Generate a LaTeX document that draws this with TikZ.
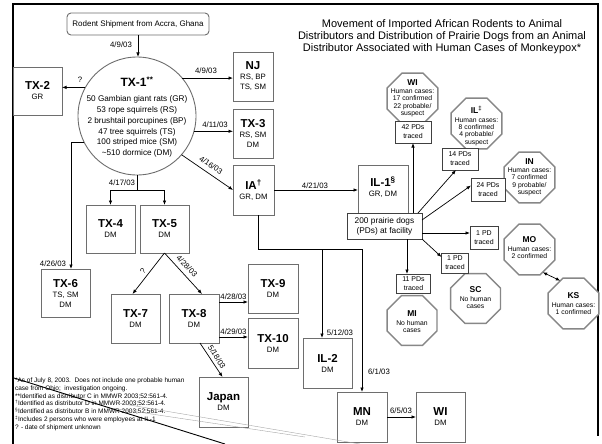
\documentclass[tikz,border=0pt]{standalone}
\usepackage{fontspec}
\setmainfont{Liberation Sans}
\usetikzlibrary{arrows.meta,shapes.geometric,calc}
\definecolor{boxgray}{RGB}{110,110,110}
\definecolor{octgray}{RGB}{135,135,135}
\newcommand\bxname[1]{{\fontsize{11.5}{12}\selectfont\bfseries #1}}
\newcommand\octname[1]{{\fontsize{8.5}{9}\selectfont\bfseries #1}}
\begin{document}
\begin{tikzpicture}[x=1pt,y=-1pt,
  every node/.style={inner sep=0pt, outer sep=0pt},
  bx/.style={draw=boxgray, line width=0.9pt, fill=white, align=center, font=\fontsize{7.8}{10}\selectfont},
  sbx/.style={draw=black!75, line width=0.6pt, fill=white, align=center, font=\fontsize{7}{9}\selectfont},
  octa/.style={regular polygon, regular polygon sides=8, draw=octgray, line width=1.4pt, fill=white, minimum size=55pt},
  octt/.style={align=center, font=\fontsize{6.8}{7.2}\selectfont},
  con/.style={draw=black, line width=0.7pt},
  arr/.style={con, -{Latex[length=4.5pt,width=3.5pt]}},
  dl/.style={font=\fontsize{7.8}{9}\selectfont},
]
\useasboundingbox (0,0) rectangle (602,444);

% frame
\draw[line width=2.2pt] (13,444) -- (13,4) -- (598,4) -- (598,436);

% title
\node[align=center, font=\fontsize{11}{12}\selectfont] (title) at (442,37) {Movement of Imported African Rodents to Animal\\Distributors and Distribution of Prairie Dogs from an Animal\\Distributor Associated with Human Cases of Monkeypox*};

% shipment and TX-1
\node[bx, rounded corners=4pt, minimum width=142pt, minimum height=22pt, font=\fontsize{8}{9}\selectfont] (ship) at (138,24) {Rodent Shipment from Accra, Ghana};
\node[circle, draw=boxgray, line width=0.9pt, minimum size=118pt] (tx1) at (137,116) {};
\node[font=\fontsize{12}{13}\selectfont\bfseries] (tx1n) at (137,82) {TX-1\textsuperscript{**}};
\node[align=center, font=\fontsize{8.2}{10.9}\selectfont] (tx1l) at (137,126.5) {50 Gambian giant rats (GR)\\53 rope squirrels (RS)\\2 brushtail porcupines (BP)\\47 tree squirrels (TS)\\100 striped mice (SM)\\\textasciitilde510 dormice (DM)};

% boxes
\node[bx, minimum width=49pt, minimum height=48pt] (tx2) at (37.5,91) {\bxname{TX-2}\\GR};
\node[bx, minimum width=40pt, minimum height=49pt] (nj) at (253,76.5) {\bxname{NJ}\\RS, BP\\TS, SM};
\node[bx, minimum width=40pt, minimum height=49pt] (tx3) at (253,133.5) {\bxname{TX-3}\\RS, SM\\DM};
\node[bx, minimum width=41pt, minimum height=50pt] (ia) at (253.5,190) {\bxname{IA\textsuperscript{†}}\\GR, DM};
\node[bx, minimum width=50pt, minimum height=57pt] (il1) at (383,193.5) {};
\node[align=center, font=\fontsize{7.8}{10}\selectfont] (il1t) at (383,187) {\bxname{IL-1\textsuperscript{§}}\\GR, DM};
\node[bx, minimum width=49pt, minimum height=48pt] (tx4) at (110.5,229) {\bxname{TX-4}\\DM};
\node[bx, minimum width=49pt, minimum height=48pt] (tx5) at (164.5,229) {\bxname{TX-5}\\DM};
\node[bx, minimum width=49pt, minimum height=48pt] (tx6) at (65.5,293) {\bxname{TX-6}\\TS, SM\\DM};
\node[bx, minimum width=49pt, minimum height=49pt] (tx7) at (135.5,318.5) {\bxname{TX-7}\\DM};
\node[bx, minimum width=50pt, minimum height=49pt] (tx8) at (194,318.5) {\bxname{TX-8}\\DM};
\node[bx, minimum width=50pt, minimum height=49pt] (tx9) at (273,288.5) {\bxname{TX-9}\\DM};
\node[bx, minimum width=50pt, minimum height=50pt] (tx10) at (273,343) {\bxname{TX-10}\\DM};
\node[bx, minimum width=49pt, minimum height=50pt] (japan) at (223.5,402) {\bxname{Japan}\\DM};
\node[bx, minimum width=49pt, minimum height=50pt] (il2) at (327.5,363) {\bxname{IL-2}\\DM};
\node[bx, minimum width=50pt, minimum height=50pt] (mn) at (362,417) {\bxname{MN}\\DM};
\node[bx, minimum width=49pt, minimum height=50pt] (wib) at (440.5,417) {\bxname{WI}\\DM};
\node[bx, draw=black!75, minimum width=75pt, minimum height=26pt, font=\fontsize{8.3}{10}\selectfont] (pd) at (384.5,226) {200 prairie dogs\\(PDs) at facility};

% octagons
\node[octa] (wio) at (412.5,98.5) {};
\node[octt] (wiot) at (412.5,98) {\octname{WI}\\[1.5pt]Human cases:\\17 confirmed\\22 probable/\\suspect};
\node[octa] (ilo) at (476.5,123.5) {};
\node[octt] (ilot) at (476.5,126) {\octname{IL\textsuperscript{‡}}\\[1.5pt]Human cases:\\8 confirmed\\4 probable/\\suspect};
\node[octa] (ino) at (529.5,177.5) {};
\node[octt] (inot) at (529.5,177) {\octname{IN}\\[1.5pt]Human cases:\\7 confirmed\\9 probable/\\suspect};
\node[octa] (mo) at (529.5,249.5) {};
\node[octt] (mot) at (529.5,248) {\octname{MO}\\[1.5pt]Human cases:\\2 confirmed};
\node[octa] (ks) at (573.5,303.5) {};
\node[octt] (kst) at (573.5,304) {\octname{KS}\\[1.5pt]Human cases:\\1 confirmed};
\node[octa, minimum size=54pt] (sc) at (475.5,298.5) {};
\node[octt] (sct) at (475.5,297.5) {\octname{SC}\\[1.5pt]No human\\cases};
\node[octa, minimum size=54pt] (mi) at (412,320.5) {};
\node[octt] (mit) at (412,322) {\octname{MI}\\[1.5pt]No human\\cases};

% small PD boxes
\node[sbx, minimum width=36pt, minimum height=22pt] (pd42) at (413,132) {42 PDs\\traced};
\node[sbx, minimum width=36pt, minimum height=22pt] (pd14) at (460,159) {14 PDs\\traced};
\node[sbx, minimum width=34pt, minimum height=23pt] (pd24) at (488,189.5) {24 PDs\\traced};
\node[sbx, minimum width=28pt, minimum height=23pt] (pd1mo) at (484,238) {1 PD\\traced};
\node[sbx, minimum width=27pt, minimum height=20pt] (pd1sc) at (455,263) {1 PD\\traced};
\node[sbx, minimum width=34pt, minimum height=19pt] (pd11) at (413.5,283.5) {11 PDs\\traced};

% connectors from shipment / TX-1
\draw[arr] (ship.south) -- (ship.south |- tx1.north);
\node[dl] (l1) at (121,45) {4/9/03};
\draw[arr] (tx1.151) -- (tx1.151 -| tx2.east);
\node[dl] (lq1) at (80,80) {?};
\draw[arr] (tx1.40) -- (tx1.40 -| nj.west);
\node[dl] (l2) at (206,71) {4/9/03};
\draw[arr] (tx1.-15) -- (tx1.-15 -| tx3.west);
\node[dl] (l3) at (215,125) {4/11/03};
\draw[arr] (tx1.-41) -- (ia.west);
\node[dl, rotate=-34] (l4) at (211,165) {4/16/03};
\draw[arr] (ia.east) -- (ia.east -| il1.west);
\node[dl] (l5) at (315,186) {4/21/03};

\coordinate (c6) at ($(tx6.north)+(5.5,0)$);
\draw[arr] (tx1.206) -| (c6);
\node[dl] (l6) at (53,264) {4/26/03};

\coordinate (c45) at ($(tx1.south)+(0,15)$);
\draw[con] (tx1.south) -- (c45);
\draw[arr] (c45) -| (tx4.north);
\draw[arr] (c45) -| (tx5.north);
\node[dl] (l7) at (122,183) {4/17/03};

\draw[arr] (tx5.south) -- ($(tx7.north)+(-3,0)$);
\draw[arr] (tx5.south) -- ($(tx8.north)+(8,0)$);
\node[dl, rotate=50] (lq2) at (143,271) {?};
\node[dl, rotate=-46] (l8) at (187,266) {4/28/03};

\coordinate (c89) at ($(tx8.north east)+(0,8)$);
\draw[arr] (c89) -- (c89 -| tx9.west);
\node[dl] (l9) at (233.5,297) {4/28/03};
\coordinate (c810) at ($(tx8.south east)+(0,-6)$);
\draw[arr] (c810) -- (c810 -| tx10.west);
\node[dl] (l10) at (233.5,332) {4/29/03};
\draw[arr] ($(tx8.south)+(6,0)$) -- ($(japan.north)+(-1,0)$);
\node[dl, rotate=-58] (l11) at (217,357) {5/18/03};

% IA to IL-2 and MN
\coordinate (j1) at ($(ia.south)+(4.5,34)$);
\coordinate (j2) at (322,249);
\coordinate (j3) at (mn.north |- j1);
\draw[con] ($(ia.south)+(4.5,0)$) -- (j1) -- (j3);
\draw[arr] (j3) -- (mn.north);
\draw[arr] (j2) -- (j2 |- il2.north);
\node[dl] (l12) at (340,333) {5/12/03};
\node[dl] (l13) at (379,372) {6/1/03};
\draw[arr] (mn.east) -- (mn.east -| wib.west);
\node[dl] (l14) at (401,410.5) {6/5/03};

% prairie dog distribution
\draw[arr] (pd42.south |- pd.north) -- (pd42.south);
\draw[arr] ($(pd.north east)+(-4,0)$) -- ($(pd14.south)+(-4,0)$);
\draw[arr] ($(pd.east)+(0,-6)$) -- ($(pd24.west)+(0,-4)$);
\coordinate (cmo) at ($(pd.east)+(0,7)$);
\draw[arr] (cmo) -- (cmo -| pd1mo.west);
\draw[arr] (pd.south east) -- ($(pd1sc.north west)+(0,4)$);
\coordinate (c11) at ($(pd.south east)+(-15,0)$);
\draw[arr] (c11) -- (c11 |- pd11.north);
\draw[con, {Latex[length=4.5pt,width=3.5pt]}-{Latex[length=4.5pt,width=3.5pt]}] (mo.-60) -- (ks.120);

% footnotes
\node[anchor=north west, align=left, font=\fontsize{6.5}{7.9}\selectfont] (fn) at (15,377.5) {*As of July 8, 2003.\ \ Does not include one probable human\\case from Ohio;\ \ investigation ongoing.\\**Identified as distributor C in MMWR 2003;52:561-4.\\\textsuperscript{†}Identified as distributor D in MMWR 2003;52:561-4.\\\textsuperscript{§}Identified as distributor B in MMWR 2003;52:561-4.\\\textsuperscript{‡}Includes 2 persons who were employees at IL-1\\? - date of shipment unknown};

% stray lines
\draw[line width=0.9pt] (14,378) -- (225,444);
\draw[black!35, line width=0.4pt] (112,402) -- (360,444);
\draw[black!35, line width=0.4pt] (118,409) -- (305,437);
\end{tikzpicture}
\end{document}
